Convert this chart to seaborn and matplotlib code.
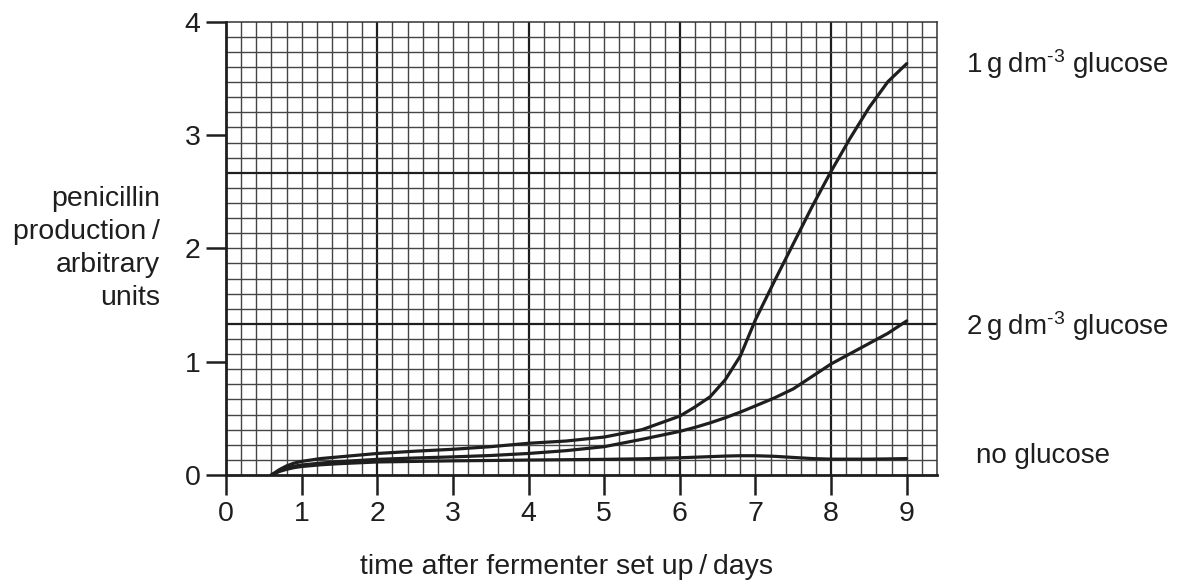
import numpy as np
import pandas as pd
import matplotlib
matplotlib.use("Agg")
import matplotlib.pyplot as plt
import seaborn as sns

# ---- data ----
days = [0.6, 0.7, 0.8, 0.9, 1.0, 1.25, 1.5, 2.0, 2.5, 3.0, 3.5, 4.0, 4.5, 5.0,
        5.5, 6.0, 6.2, 6.4, 6.6, 6.8, 7.0, 7.25, 7.5, 7.75, 8.0, 8.25, 8.5, 8.75, 9.0]
glucose_1g = [0.0, 0.045, 0.08, 0.105, 0.12, 0.145, 0.16, 0.19, 0.21, 0.227, 0.25,
              0.28, 0.30, 0.335, 0.40, 0.52, 0.60, 0.69, 0.84, 1.05, 1.37, 1.71,
              2.04, 2.37, 2.68, 2.97, 3.24, 3.47, 3.63]
glucose_2g = [0.0, 0.035, 0.06, 0.078, 0.088, 0.105, 0.118, 0.138, 0.15, 0.16, 0.172,
              0.19, 0.215, 0.25, 0.315, 0.385, 0.42, 0.46, 0.505, 0.555, 0.61, 0.68,
              0.76, 0.87, 0.98, 1.07, 1.16, 1.25, 1.36]
no_glucose = [0.0, 0.03, 0.05, 0.065, 0.075, 0.09, 0.10, 0.115, 0.12, 0.125, 0.128,
              0.132, 0.135, 0.138, 0.143, 0.152, 0.157, 0.162, 0.167, 0.17, 0.17,
              0.165, 0.155, 0.145, 0.14, 0.14, 0.14, 0.142, 0.145]
series_names = ["1\u2009g\u2009dm$^{\u20103}$ glucose", "2\u2009g\u2009dm$^{\u20103}$ glucose",
                "no glucose"]
x_ticks = [0, 1, 2, 3, 4, 5, 6, 7, 8, 9]
y_ticks = [0, 1, 2, 3, 4]
x_label = "time after fermenter set up\u2009/\u2009days"
y_label = "penicillin\nproduction\u2009/\narbitrary\nunits"

df = pd.DataFrame({
    "days": days * 3,
    "production": glucose_1g + glucose_2g + no_glucose,
    "series": [series_names[0]] * len(days) + [series_names[1]] * len(days)
              + [series_names[2]] * len(days),
})

# ---- style ----
sns.set_style("white")
plt.rcParams["font.family"] = ["Liberation Sans", "DejaVu Sans"]
plt.rcParams["mathtext.fontset"] = "custom"
plt.rcParams["mathtext.rm"] = "Liberation Sans"
plt.rcParams["mathtext.it"] = "Liberation Sans:italic"
plt.rcParams["mathtext.default"] = "regular"

FS = 20.5
ink = "#1e1e1e"

fig = plt.figure(figsize=(11.78, 5.86), dpi=100)
ax = fig.add_axes([226 / 1178, 1 - 475 / 586, (937 - 226) / 1178, (475 - 21.7) / 586])

xmax, ymax = 9.4, 4.0
ax.set_xlim(0, xmax)
ax.set_ylim(0, ymax)

# graph-paper grid
xs = np.arange(0, xmax + 1e-9, 0.2)
for i, xv in enumerate(xs):
    if i == 0 or i == len(xs) - 1:
        continue
    major = i % 10 == 0
    ax.axvline(xv, color="#1e1e1e" if major else "#454545",
               lw=1.6 if major else 1.0, zorder=1)
ys = np.linspace(0, ymax, 31)
for i, yv in enumerate(ys):
    if i == 0 or i == len(ys) - 1:
        continue
    major = i % 10 == 0
    ax.axhline(yv, color="#1e1e1e" if major else "#454545",
               lw=1.6 if major else 1.0, zorder=1)

sns.lineplot(data=df, x="days", y="production", hue="series",
             palette=[ink, ink, ink], legend=False, lw=2.3, ax=ax, zorder=3,
             estimator=None, sort=True)

# series labels at the right
label_pos = [(9.79, 3.63), (9.79, 1.31), (9.91, 0.17)]
for name, (lx, ly) in zip(series_names, label_pos):
    ax.text(lx, ly, name, ha="left", va="center", fontsize=20, color=ink,
            clip_on=False)

ax.set_xticks(x_ticks)
ax.set_yticks(y_ticks)
ax.set_xticklabels([str(t) for t in x_ticks])
ax.set_yticklabels([str(t) for t in y_ticks])
ax.tick_params(axis="both", direction="out", length=14.5, width=1.8,
               color=ink, labelsize=FS, labelcolor=ink, bottom=True, left=True)
ax.tick_params(axis="x", pad=4)
ax.tick_params(axis="y", pad=4)
ax.set_xlabel("")
ax.set_ylabel("")

for side in ["left", "bottom"]:
    ax.spines[side].set_linewidth(2.0)
    ax.spines[side].set_color(ink)
    ax.spines[side].set_zorder(4)
for side in ["top", "right"]:
    ax.spines[side].set_linewidth(1.1)
    ax.spines[side].set_color("#333333")

fig.text(160 / 1178, 1 - 248 / 586, y_label, ha="right", va="center",
         multialignment="right", linespacing=1.35, fontsize=FS, color=ink)
fig.text(567 / 1178, 1 - 567 / 586, x_label, ha="center", va="center",
         fontsize=FS, color=ink)

fig.savefig("out.png", dpi=100)
